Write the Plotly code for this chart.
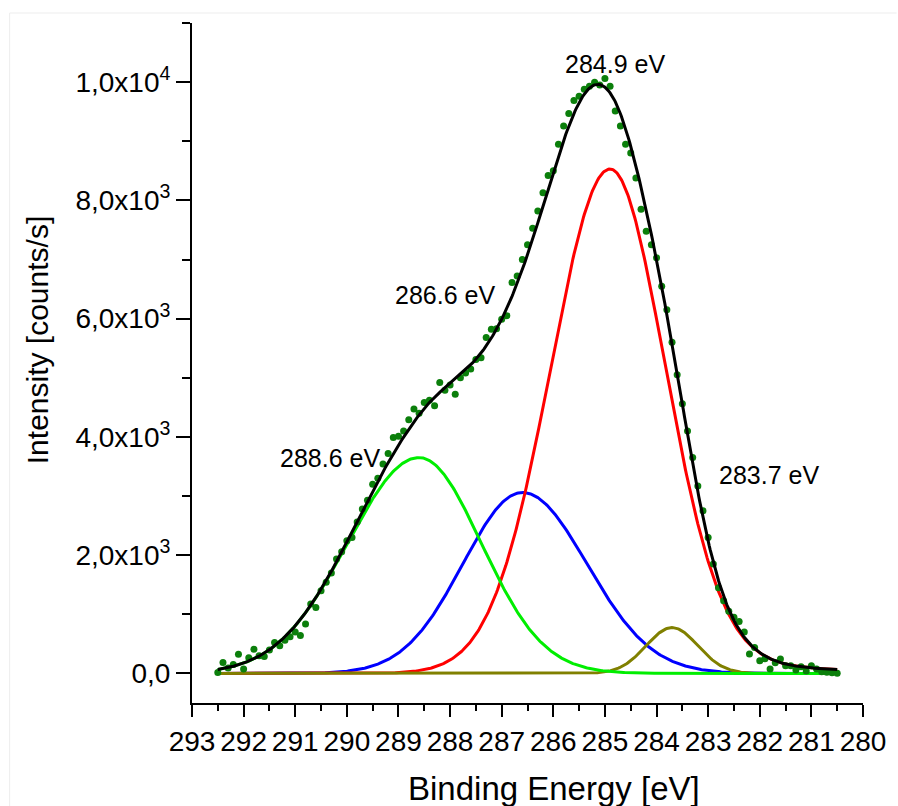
import numpy as np
import plotly.graph_objects as go

# Measured C1s spectrum: binding energy grid (0.1 eV steps) and counts
energy = np.round(np.linspace(292.5, 280.5, 121), 1)
counts = [
    15, 185, 90, 150, 325, 75, 265, 410, 300, 285,            # 292.5 - 291.6
    395, 525, 470, 560, 620, 700, 640, 835, 1175, 1115,       # 291.5 - 290.6
    1400, 1540, 1700, 1935, 2060, 2245, 2300, 2560, 2780, 2930,  # 290.5 - 289.6
    3200, 3300, 3540, 3720, 3990, 4010, 4100, 4290, 4470, 4400,  # 289.5 - 288.6
    4580, 4620, 4525, 4920, 4790, 4880, 4720, 5000, 5080, 5150,  # 288.5 - 287.6
    5310, 5340, 5680, 5820, 5830, 5990, 6050, 6610, 6720, 7000,  # 287.5 - 286.6
    7250, 7530, 7820, 8130, 8420, 8500, 8950, 9260, 9470, 9690,  # 286.5 - 285.6
    9760, 9880, 9930, 10000, 9950, 10060, 9930, 9510, 9260, 8950,  # 285.5 - 284.6
    8800, 8380, 7850, 7480, 7250, 7030, 6550, 6150, 5600, 5050,  # 284.5 - 283.6
    4560, 4100, 3650, 3170, 2750, 2300, 1850, 1450, 1230, 1050,  # 283.5 - 282.6
    950, 880, 700, 330, 440, 215, 250, 75, 180, 245,          # 282.5 - 281.6
    130, 130, 60, 115, 40, 130, 75, 30, 20, 10,               # 281.5 - 280.6
    5,                                                        # 280.5
]

# Fitted components: position (eV), height (counts/s), widths on the
# high / low binding-energy side (sigma, eV) and Lorentzian fraction of the
# low binding-energy side
peak_pos = [288.6, 286.6, 284.9, 283.7]
peak_height = [3650, 3060, 8530, 775]
peak_sigma_hi = [1.38, 1.15, 1.15, 0.50]
peak_sigma_lo = [1.20, 1.25, 1.08, 0.50]
peak_lorentz_lo = [0.0, 0.0, 0.10, 0.0]
peak_colors = ["#00ee00", "#0000ff", "#ff0000", "#808000"]

# x-axis and y-axis tick labels
x_ticks = list(range(293, 279, -1))
y_ticks = [0, 2000, 4000, 6000, 8000, 10000]
y_ticktext = ["0,0", "2,0x10<sup>3</sup>", "4,0x10<sup>3</sup>",
              "6,0x10<sup>3</sup>", "8,0x10<sup>3</sup>", "1,0x10<sup>4</sup>"]


def line_shape(x, c, h, s_hi, s_lo, m_lo):
    """Split Gaussian-Lorentzian (pseudo-Voigt) line shape."""
    hi = x >= c
    s = np.where(hi, s_hi, s_lo)
    m = np.where(hi, 0.0, m_lo)
    w = 2.3548 * s
    u = 4.0 * (x - c) ** 2 / w ** 2
    return h * ((1.0 - m) * np.exp(-np.log(2.0) * u) + m / (1.0 + u))


e_fit = np.linspace(292.5, 280.5, 601)
components = [
    line_shape(e_fit, c, h, shi, slo, m)
    for c, h, shi, slo, m in zip(peak_pos, peak_height, peak_sigma_hi,
                                 peak_sigma_lo, peak_lorentz_lo)
]
envelope = np.sum(components, axis=0)

FONT = "Liberation Sans, Arial, sans-serif"

fig = go.Figure()

# component order: blue, red, olive underneath, green on top
for i in [1, 2, 3, 0]:
    fig.add_trace(go.Scatter(
        x=e_fit, y=components[i], mode="lines",
        line=dict(color=peak_colors[i], width=3), hoverinfo="skip",
        showlegend=False,
    ))

fig.add_trace(go.Scatter(
    x=energy, y=counts, mode="markers",
    marker=dict(color="#0b7f0b", size=7, line=dict(width=0)),
    showlegend=False,
))

fig.add_trace(go.Scatter(
    x=e_fit, y=envelope, mode="lines",
    line=dict(color="black", width=3), showlegend=False,
))

# peak labels, placed next to each component
label_x = [290.32, 288.09, 284.81, 281.83]
label_y = [3650, 6400, 10300, 3350]
for px, lx, ly in zip(peak_pos, label_x, label_y):
    fig.add_annotation(
        x=lx, y=ly, xref="x", yref="y", text=f"{px:.1f} eV",
        showarrow=False, font=dict(family=FONT, size=25, color="black"),
        xanchor="center", yanchor="middle",
    )

# axis titles
fig.add_annotation(
    x=0.539, y=-0.126, xref="paper", yref="paper",
    text="Binding Energy [eV]", showarrow=False,
    font=dict(family=FONT, size=33, color="black"),
    xanchor="center", yanchor="middle",
)
fig.add_annotation(
    x=-0.229, y=0.534, xref="paper", yref="paper",
    text="Intensity [counts/s]", showarrow=False, textangle=-90,
    font=dict(family=FONT, size=30, color="black"),
    xanchor="center", yanchor="middle",
)

# faint frame around the figure
frame = dict(type="line", xref="paper", yref="paper",
             line=dict(color="#ededed", width=1))
fig.add_shape(x0=-0.2718, x1=-0.2718, y0=1.0147, y1=-0.16, **frame)
fig.add_shape(x0=-0.2718, x1=1.05, y0=1.0147, y1=1.0147, **frame)

fig.update_layout(
    width=898, height=806,
    margin=dict(l=192, r=29, t=23, b=103),
    paper_bgcolor="white", plot_bgcolor="white",
    font=dict(family=FONT, size=28, color="black"),
    showlegend=False,
)

fig.update_xaxes(
    range=[293, 280], tickmode="array", tickvals=x_ticks,
    ticktext=[str(t) for t in x_ticks],
    showline=True, linecolor="black", linewidth=2, mirror=False,
    ticks="outside", ticklen=12, tickwidth=2, tickcolor="black",
    showgrid=False, zeroline=False,
    tickfont=dict(family=FONT, size=28, color="black"),
    minor=dict(tickmode="array", tickvals=[t - 0.5 for t in x_ticks[:-1]],
               ticks="outside", ticklen=6, tickwidth=2, tickcolor="black",
               showgrid=False),
)

fig.update_yaxes(
    range=[-500, 11000], tickmode="array", tickvals=y_ticks,
    ticktext=y_ticktext,
    showline=True, linecolor="black", linewidth=2, mirror=False,
    ticks="outside", ticklen=14, tickwidth=2, tickcolor="black",
    showgrid=False, zeroline=False,
    tickfont=dict(family=FONT, size=28, color="black"),
    minor=dict(tickmode="array", tickvals=[1000, 3000, 5000, 7000, 9000, 11000],
               ticks="outside", ticklen=8, tickwidth=2, tickcolor="black",
               showgrid=False),
)

fig.write_html("out.html")
